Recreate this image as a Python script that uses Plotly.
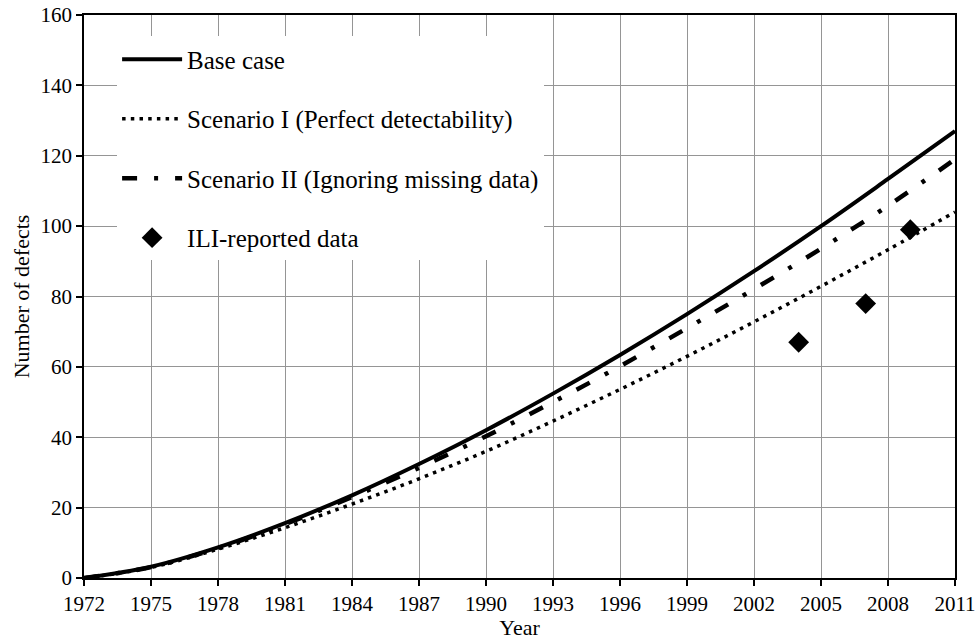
import plotly.graph_objects as go

years = [1972, 1975, 1978, 1981, 1984, 1987, 1990, 1993, 1996, 1999, 2002, 2005, 2008, 2011]
base_case = [0, 3.2, 8.7, 15.6, 23.5, 32.4, 42.0, 52.4, 63.4, 75.0, 87.2, 100.0, 113.4, 127.0]
scenario_1 = [0, 3.0, 8.2, 14.3, 21.0, 28.2, 36.0, 44.6, 53.6, 63.0, 72.8, 82.9, 93.3, 104.0]
scenario_2 = [0, 3.1, 8.5, 15.3, 23.0, 31.3, 40.3, 50.0, 60.2, 71.0, 82.1, 93.6, 105.8, 119.0]
ili_years = [2004, 2007, 2009]
ili_values = [67, 78, 99]

x_ticks = list(range(1972, 2012, 3))
y_ticks = list(range(0, 161, 20))

FONT = "Liberation Serif, Times New Roman, serif"

fig = go.Figure()
fig.add_trace(go.Scatter(x=years, y=base_case, mode="lines", name="Base case",
                         line=dict(color="black", width=4, shape="spline"),
                         legendgroup="a"))
fig.add_trace(go.Scatter(x=years, y=scenario_1, mode="lines", name="Scenario I (Perfect detectability)",
                         line=dict(color="black", width=3.5, shape="spline", dash="3.5px,5.2px"),
                         legendgroup="b"))
fig.add_trace(go.Scatter(x=years, y=scenario_2, mode="lines", name="Scenario II (Ignoring missing data)",
                         line=dict(color="black", width=4.5, shape="spline", dash="15px,17px,4px,17px"),
                         legendgroup="c"))
fig.add_trace(go.Scatter(x=ili_years, y=ili_values, mode="markers", name="ILI-reported data",
                         marker=dict(symbol="diamond", size=16, color="black"),
                         legendgroup="d"))

fig.update_layout(
    width=979, height=640,
    margin=dict(l=84, r=24, t=15, b=62, autoexpand=False),
    paper_bgcolor="white", plot_bgcolor="white",
    font=dict(family=FONT, size=21, color="black"),
    showlegend=True,
    legend=dict(x=0.038, y=0.962, xanchor="left", yanchor="top",
                bgcolor="white", borderwidth=0,
                font=dict(family=FONT, size=25, color="black"),
                tracegroupgap=24, itemwidth=60),
    xaxis=dict(range=[1972, 2011], tickvals=x_ticks, ticktext=[str(v) for v in x_ticks],
               showgrid=True, gridcolor="#959595", gridwidth=1.2,
               showline=True, linecolor="black", linewidth=1.6, mirror=True,
               ticks="outside", ticklen=6, tickcolor="black", tickwidth=1.5,
               zeroline=False, automargin=False,
               title=dict(text="Year", font=dict(family=FONT, size=22), standoff=2)),
    yaxis=dict(range=[0, 160], tickvals=y_ticks,
               showgrid=True, gridcolor="#959595", gridwidth=1.2,
               showline=True, linecolor="black", linewidth=1.6, mirror=True,
               ticks="outside", ticklen=6, tickcolor="black", tickwidth=1.5,
               zeroline=False, automargin=False,
               title=dict(text="Number of defects", font=dict(family=FONT, size=22), standoff=5)),
)

fig.write_html("out.html")
